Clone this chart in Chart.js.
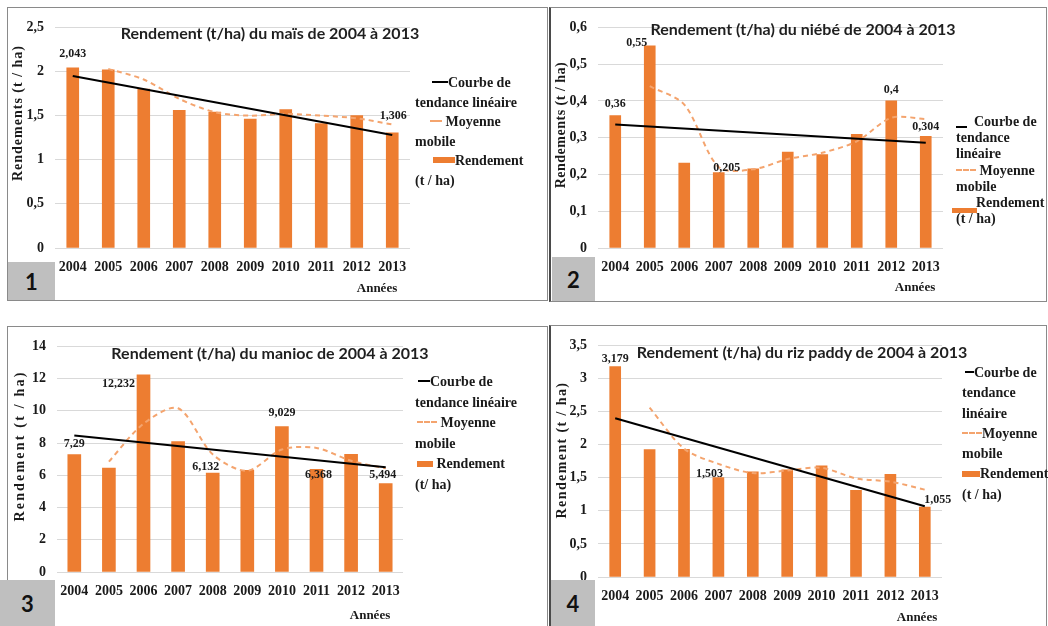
<!DOCTYPE html>
<html lang="fr">
<head>
<meta charset="utf-8">
<title>Rendements 2004-2013</title>
<script src="https://cdn.jsdelivr.net/npm/chart.js@4.4.0/dist/chart.umd.min.js"></script>
<style>
  body { margin: 0; background: #fff; }
  #page { position: relative; width: 1048px; height: 626px; overflow: hidden; background: #fff; }
  .frame { position: absolute; box-sizing: border-box; border: 1px solid #8a8a8a; }
  .holder { position: absolute; }
  .holder canvas { display: block; }
  .ttl { position: absolute; transform: translate(-50%, -50%); white-space: nowrap;
         font: bold 16px "Lato", "Open Sans", sans-serif; color: #1f1f1f; }
  .axis-x { position: absolute; transform: translate(-50%, -50%); white-space: nowrap;
            font: bold 13px "Liberation Serif", serif; color: #1a1a1a; }
  .legend { position: absolute; font: bold 14px "Liberation Serif", serif; color: #1a1a1a; white-space: nowrap; }
  .legend div { position: relative; }
  .sym-line { display: inline-block; height: 2px; background: #000; vertical-align: middle; margin-top: -3px; }
  .sym-dash { display: inline-block; height: 0; border-top: 2px dashed #F4A46E; vertical-align: middle; margin-top: -3px; }
  .sym-box { display: inline-block; height: 6px; background: #ED7D31; vertical-align: middle; margin-top: -3px; }
  .badge { position: absolute; background: #BFBFBF; display: flex; align-items: center; justify-content: center;
           font: bold 22px "Lato", "Open Sans", sans-serif; color: #111; }
</style>
</head>
<body>
<div id="page">
  <!-- panel frames -->
  <div class="frame" style="left:7px;top:7px;width:541px;height:294px;"></div>
  <div class="frame" style="left:549px;top:7px;width:498px;height:295px;border-left:2px solid #4a4a4a;"></div>
  <div class="frame" style="left:7px;top:326px;width:541px;height:320px;"></div>
  <div class="frame" style="left:549px;top:325px;width:498px;height:320px;border-left:2px solid #4a4a4a;"></div>

  <!-- titles -->
  <div class="ttl" style="left:270px;top:32px;">Rendement (t/ha) du maïs de 2004 à 2013</div>
  <div class="ttl" style="left:803px;top:28px;">Rendement (t/ha) du niébé de 2004 à 2013</div>
  <div class="ttl" style="left:270px;top:352px;">Rendement (t/ha) du manioc de 2004 à 2013</div>
  <div class="ttl" style="left:802px;top:351px;">Rendement (t/ha) du riz paddy de 2004 à 2013</div>

  <!-- x axis titles -->
  <div class="axis-x" style="left:377px;top:288px;">Années</div>
  <div class="axis-x" style="left:915px;top:287px;">Années</div>
  <div class="axis-x" style="left:370px;top:615px;">Années</div>
  <div class="axis-x" style="left:917px;top:617px;">Années</div>

  <!-- legends -->
  <div class="legend" style="left:415px;top:73px;line-height:19.5px;">
    <div><span class="sym-line" style="margin-left:17px;width:16px;"></span>Courbe de</div>
    <div>tendance linéaire</div>
    <div><span class="sym-dash" style="margin-left:15px;width:12px;"></span> Moyenne</div>
    <div>mobile</div>
    <div><span class="sym-box" style="margin-left:18px;width:22px;"></span>Rendement</div>
    <div>(t / ha)</div>
  </div>
  <div class="legend" style="left:956px;top:114px;line-height:16.2px;">
    <div><span class="sym-line" style="width:11px;margin-top:8px;"></span>&nbsp; Courbe de</div>
    <div>tendance</div>
    <div>linéaire</div>
    <div><span class="sym-dash" style="width:20px;"></span>&nbsp;Moyenne</div>
    <div>mobile</div>
    <div><span style="display:inline-block;width:20px;"></span>Rendement<span class="sym-box" style="position:absolute;left:-4px;top:13px;width:25px;height:5px;margin:0;"></span></div>
    <div>(t / ha)</div>
  </div>
  <div class="legend" style="left:415px;top:372px;line-height:20.6px;">
    <div><span class="sym-line" style="margin-left:3px;width:12px;"></span>Courbe de</div>
    <div>tendance linéaire</div>
    <div><span class="sym-dash" style="margin-left:2px;width:20px;"></span>&nbsp;Moyenne</div>
    <div>mobile</div>
    <div><span class="sym-box" style="margin-left:2px;width:16px;"></span>&nbsp;Rendement</div>
    <div>(t/ ha)</div>
  </div>
  <div class="legend" style="left:962px;top:363px;line-height:20.3px;">
    <div><span class="sym-line" style="margin-left:3px;width:9px;"></span>Courbe de</div>
    <div>tendance</div>
    <div>linéaire</div>
    <div><span class="sym-dash" style="width:20px;"></span>Moyenne</div>
    <div>mobile</div>
    <div><span class="sym-box" style="width:18px;"></span>Rendement</div>
    <div>(t / ha)</div>
  </div>

  <!-- panel numbers -->
  <div class="badge" style="left:8px;top:262px;width:47px;height:38px;">1</div>
  <div class="badge" style="left:552px;top:257px;width:43px;height:44px;">2</div>
  <div class="badge" style="left:0px;top:580px;width:55px;height:46px;">3</div>
  <div class="badge" style="left:551px;top:580px;width:44px;height:46px;">4</div>
</div>

<script>
// Years on the horizontal axis
const years = ['2004', '2005', '2006', '2007', '2008', '2009', '2010', '2011', '2012', '2013'];

// Maïs
const maisRendement = [2.043, 2.02, 1.80, 1.56, 1.54, 1.46, 1.57, 1.41, 1.50, 1.306];
const maisMoyenne   = [null, 2.03, 1.91, 1.69, 1.54, 1.50, 1.52, 1.50, 1.47, 1.40];
const maisTendance  = [1.95, null, null, null, null, null, null, null, null, 1.28];
const maisTicks     = { max: 2.5, step: 0.5 };

// Niébé
const niebeRendement = [0.36, 0.55, 0.231, 0.205, 0.215, 0.261, 0.254, 0.309, 0.4, 0.304];
const niebeMoyenne   = [null, 0.44, 0.39, 0.22, 0.214, 0.242, 0.259, 0.29, 0.354, 0.351];
const niebeTendance  = [0.336, null, null, null, null, null, null, null, null, 0.286];
const niebeTicks     = { max: 0.6, step: 0.1 };

// Manioc
const maniocRendement = [7.29, 6.45, 12.232, 8.09, 6.132, 6.31, 9.029, 6.368, 7.3, 5.494];
const maniocMoyenne   = [null, 6.85, 9.2, 10.16, 7.3, 6.28, 7.6, 7.7, 6.9, 6.43];
const maniocTendance  = [8.47, null, null, null, null, null, null, null, null, 6.5];
const maniocTicks     = { max: 14, step: 2 };

// Riz paddy
const rizRendement = [3.179, 1.927, 1.93, 1.503, 1.59, 1.62, 1.68, 1.31, 1.55, 1.055];
const rizMoyenne   = [null, 2.56, 1.94, 1.71, 1.57, 1.61, 1.65, 1.49, 1.44, 1.32];
const rizTendance  = [2.40, null, null, null, null, null, null, null, null, 1.07];
const rizTicks     = { max: 3.5, step: 0.5 };

const ORANGE = '#ED7D31';
const MA_COLOR = '#F4A46E';
const SERIF = '"Liberation Serif", "Times New Roman", serif';
const INK = '#1a1a1a';

// French decimal notation
function fmt(v) {
  return String(parseFloat(Number(v).toFixed(3))).replace('.', ',');
}

// Writes the value of selected bars next to them
const valueLabels = {
  id: 'valueLabels',
  afterDatasetsDraw(chart, args, opts) {
    const meta = chart.getDatasetMeta(opts.barIndex);
    const ds = chart.data.datasets[opts.barIndex];
    const ctx = chart.ctx;
    ctx.save();
    ctx.font = 'bold 12px ' + SERIF;
    ctx.fillStyle = INK;
    ctx.textAlign = 'center';
    ctx.textBaseline = 'middle';
    (opts.items || []).forEach(it => {
      const el = meta.data[it.i];
      ctx.fillText(fmt(ds.data[it.i]), el.x + it.dx, el.y + it.dy);
    });
    ctx.restore();
  }
};

// Spaced-out vertical axis title
const spacedYTitle = {
  id: 'spacedYTitle',
  afterDraw(chart, args, opts) {
    const ctx = chart.ctx;
    ctx.save();
    ctx.translate(opts.x, opts.y);
    ctx.rotate(-Math.PI / 2);
    ctx.font = 'bold 14px ' + SERIF;
    if ('letterSpacing' in ctx) ctx.letterSpacing = opts.spacing + 'px';
    ctx.fillStyle = INK;
    ctx.textAlign = 'center';
    ctx.textBaseline = 'middle';
    ctx.fillText(opts.text, 0, 0);
    ctx.restore();
  }
};

const page = document.getElementById('page');

function makePanel(p) {
  const holder = document.createElement('div');
  holder.className = 'holder';
  holder.style.left = p.box.x + 'px';
  holder.style.top = p.box.y + 'px';
  const canvas = document.createElement('canvas');
  canvas.width = p.box.w;
  canvas.height = p.box.h;
  canvas.style.width = p.box.w + 'px';
  canvas.style.height = p.box.h + 'px';
  holder.appendChild(canvas);
  page.insertBefore(holder, page.querySelector('.ttl'));

  const yAxisWidth = p.plot.l - p.box.x;
  const xAxisHeight = p.box.y + p.box.h - p.plot.b;
  const tickFont = { family: SERIF, size: 14, weight: 'bold' };

  new Chart(canvas, {
    type: 'bar',
    data: {
      labels: years,
      datasets: [
        { type: 'line', label: 'Courbe de tendance linéaire', data: p.trend,
          borderColor: '#000', borderWidth: 2, pointRadius: 0, spanGaps: true, tension: 0, order: 1 },
        { type: 'line', label: 'Moyenne mobile', data: p.avg,
          borderColor: MA_COLOR, borderWidth: 2, borderDash: [5, 4], pointRadius: 0,
          tension: 0.3, order: 2 },
        { type: 'bar', label: 'Rendement (t / ha)', data: p.values,
          backgroundColor: ORANGE, barThickness: p.barW, order: 3 }
      ]
    },
    options: {
      responsive: false,
      animation: false,
      events: [],
      layout: { padding: { left: 0, top: p.plot.t - p.box.y, right: p.box.x + p.box.w - p.plot.r, bottom: 0 } },
      plugins: {
        legend: { display: false },
        tooltip: { enabled: false },
        valueLabels: { barIndex: 2, items: p.labels },
        spacedYTitle: { text: p.yTitle.text, x: p.yTitle.x - p.box.x, y: p.yTitle.y - p.box.y,
                        spacing: p.yTitle.spacing }
      },
      scales: {
        x: {
          grid: { display: false, drawTicks: false },
          border: { display: false },
          ticks: { font: tickFont, color: INK, padding: 11, maxRotation: 0, autoSkip: false },
          afterFit(s) { s.height = xAxisHeight; }
        },
        y: {
          min: 0,
          max: p.ticks.max,
          ticks: { stepSize: p.ticks.step, font: tickFont, color: INK, padding: 11, callback: v => fmt(v) },
          grid: { color: '#d9d9d9', lineWidth: 1, drawTicks: false },
          border: { display: false },
          afterFit(s) { s.width = yAxisWidth; }
        }
      }
    },
    plugins: [valueLabels, spacedYTitle]
  });
}

makePanel({
  box: { x: 8, y: 8, w: 539, h: 292 }, plot: { l: 55, t: 17, r: 410, b: 248 },
  values: maisRendement, avg: maisMoyenne, trend: maisTendance, ticks: maisTicks,
  yTitle: { text: 'Rendements (t / ha)', x: 18, y: 113, spacing: 1 }, barW: 12,
  labels: [{ i: 0, dx: 0, dy: -14 }, { i: 9, dx: 1, dy: -17 }]
});

makePanel({
  box: { x: 551, y: 8, w: 495, h: 293 }, plot: { l: 598, t: 17, r: 943, b: 248 },
  values: niebeRendement, avg: niebeMoyenne, trend: niebeTendance, ticks: niebeTicks,
  yTitle: { text: 'Rendements (t / ha)', x: 561, y: 125, spacing: 0.5 }, barW: 11,
  labels: [{ i: 0, dx: 0, dy: -12 }, { i: 1, dx: -13, dy: -3 }, { i: 3, dx: 8, dy: -5 },
           { i: 8, dx: 0, dy: -11 }, { i: 9, dx: 0, dy: -9 }]
});

makePanel({
  box: { x: 8, y: 327, w: 540, h: 299 }, plot: { l: 57, t: 335, r: 403, b: 572 },
  values: maniocRendement, avg: maniocMoyenne, trend: maniocTendance, ticks: maniocTicks,
  yTitle: { text: 'Rendement (t / ha)', x: 20, y: 446, spacing: 2.2 }, barW: 13,
  labels: [{ i: 0, dx: 0, dy: -11 }, { i: 2, dx: -25, dy: 9 }, { i: 4, dx: -7, dy: -6 },
           { i: 6, dx: 0, dy: -14 }, { i: 7, dx: 2, dy: 6 }, { i: 9, dx: -3, dy: -9 }]
});

makePanel({
  box: { x: 551, y: 326, w: 495, h: 300 }, plot: { l: 598, t: 333, r: 942, b: 577 },
  values: rizRendement, avg: rizMoyenne, trend: rizTendance, ticks: rizTicks,
  yTitle: { text: 'Rendement (t / ha)', x: 562, y: 450, spacing: 1.4 }, barW: 11,
  labels: [{ i: 0, dx: 0, dy: -8 }, { i: 3, dx: -9, dy: -4 }, { i: 9, dx: 13, dy: -7 }]
});
</script>
</body>
</html>
